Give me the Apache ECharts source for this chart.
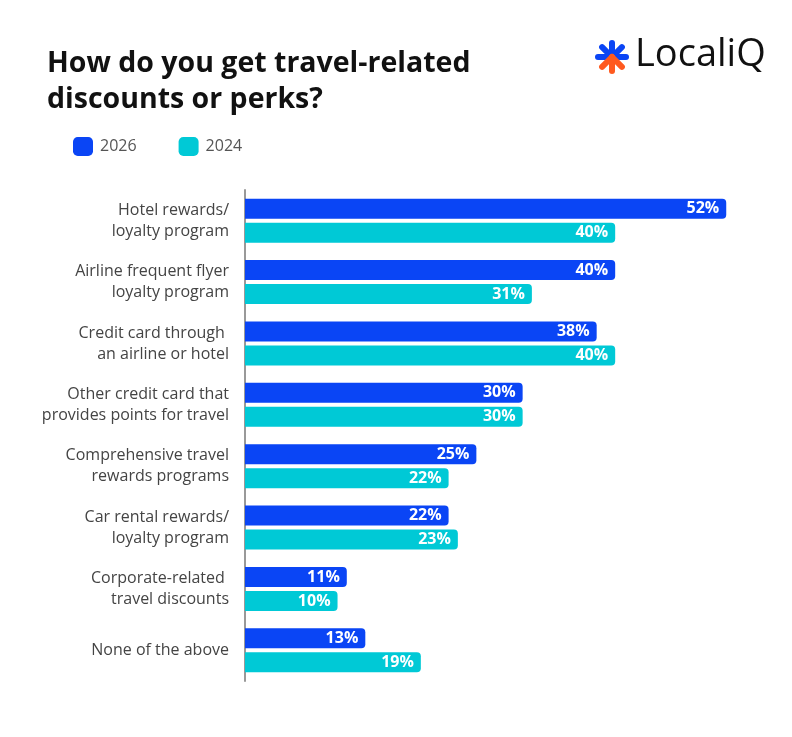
<!DOCTYPE html>
<html>
<head>
<meta charset="utf-8">
<script src="https://cdn.jsdelivr.net/npm/echarts@6/dist/echarts.min.js"></script>
<style>
  html, body { margin: 0; padding: 0; background: #fff; }
  #chart { width: 792px; height: 737px; }
</style>
</head>
<body>
<div id="chart"></div>
<script>
// data
const categories = [
  'Hotel rewards/\nloyalty program',
  'Airline frequent flyer\nloyalty program',
  'Credit card through \nan airline or hotel',
  'Other credit card that\nprovides points for travel',
  'Comprehensive travel\nrewards programs',
  'Car rental rewards/\nloyalty program',
  'Corporate-related \ntravel discounts',
  'None of the above'
];
const values2026 = [52, 40, 38, 30, 25, 22, 11, 13];
const values2024 = [40, 31, 40, 30, 22, 23, 10, 19];

const FONT = 'Open Sans';
const BLUE = '#0A45F5';
const CYAN = '#00C9D6';

const chart = echarts.init(document.getElementById('chart'));

// little asterisk logo, blue arms on top, orange below
const cx = 612, cy = 57, armLen = 14;
const arms = [];
[0, 45, 90, 135, 180, 225, 270, 315].forEach(function (deg) {
  const rad = deg * Math.PI / 180;
  const lower = deg > 180 && deg < 360;
  arms.push({
    type: 'line',
    shape: { x1: cx, y1: cy, x2: cx + armLen * Math.cos(rad), y2: cy - armLen * Math.sin(rad) },
    style: { stroke: lower ? '#FF5A1F' : BLUE, lineWidth: 6, lineCap: 'round' }
  });
});

const barLabel = {
  show: true, position: 'insideRight', distance: 7, formatter: '{c}%',
  color: '#fff', fontWeight: 'bold', fontSize: 16, fontFamily: FONT
};

const option = {
  backgroundColor: '#fff',
  textStyle: { fontFamily: FONT },
  title: {
    text: 'How do you get travel-related\ndiscounts or perks?',
    left: 47,
    top: 46,
    padding: 0,
    textStyle: { fontFamily: FONT, fontSize: 28.5, fontWeight: 'bold', color: '#111', lineHeight: 36 }
  },
  legend: {
    left: 73,
    top: 137,
    padding: 0,
    icon: 'roundRect',
    itemWidth: 20,
    itemHeight: 19,
    itemGap: 42,
    textStyle: { fontFamily: FONT, fontSize: 16, color: '#555', padding: [0, 0, 0, 2] },
    data: ['2026', '2024']
  },
  grid: { left: 245, right: 38, top: 190, bottom: 56 },
  xAxis: {
    type: 'value',
    min: 0,
    max: 55,
    show: false
  },
  yAxis: {
    type: 'category',
    inverse: true,
    data: categories,
    axisLine: { show: true, lineStyle: { color: '#999', width: 2 } },
    axisTick: { show: false },
    axisLabel: { margin: 16, fontFamily: FONT, fontSize: 16, lineHeight: 21, color: '#444', align: 'right' }
  },
  series: [
    {
      name: '2026',
      type: 'bar',
      data: values2026,
      barWidth: 20,
      barGap: '20%',
      itemStyle: { color: BLUE, borderRadius: [0, 4, 4, 0] },
      label: barLabel
    },
    {
      name: '2024',
      type: 'bar',
      data: values2024,
      barWidth: 20,
      itemStyle: { color: CYAN, borderRadius: [0, 4, 4, 0] },
      label: barLabel
    }
  ],
  graphic: arms.concat([
    {
      type: 'text',
      left: 635,
      top: 36,
      style: { text: 'LocaliQ', fontFamily: FONT, fontSize: 38, fontWeight: 500, fill: '#111' }
    }
  ])
};

chart.setOption(option);
</script>
</body>
</html>
